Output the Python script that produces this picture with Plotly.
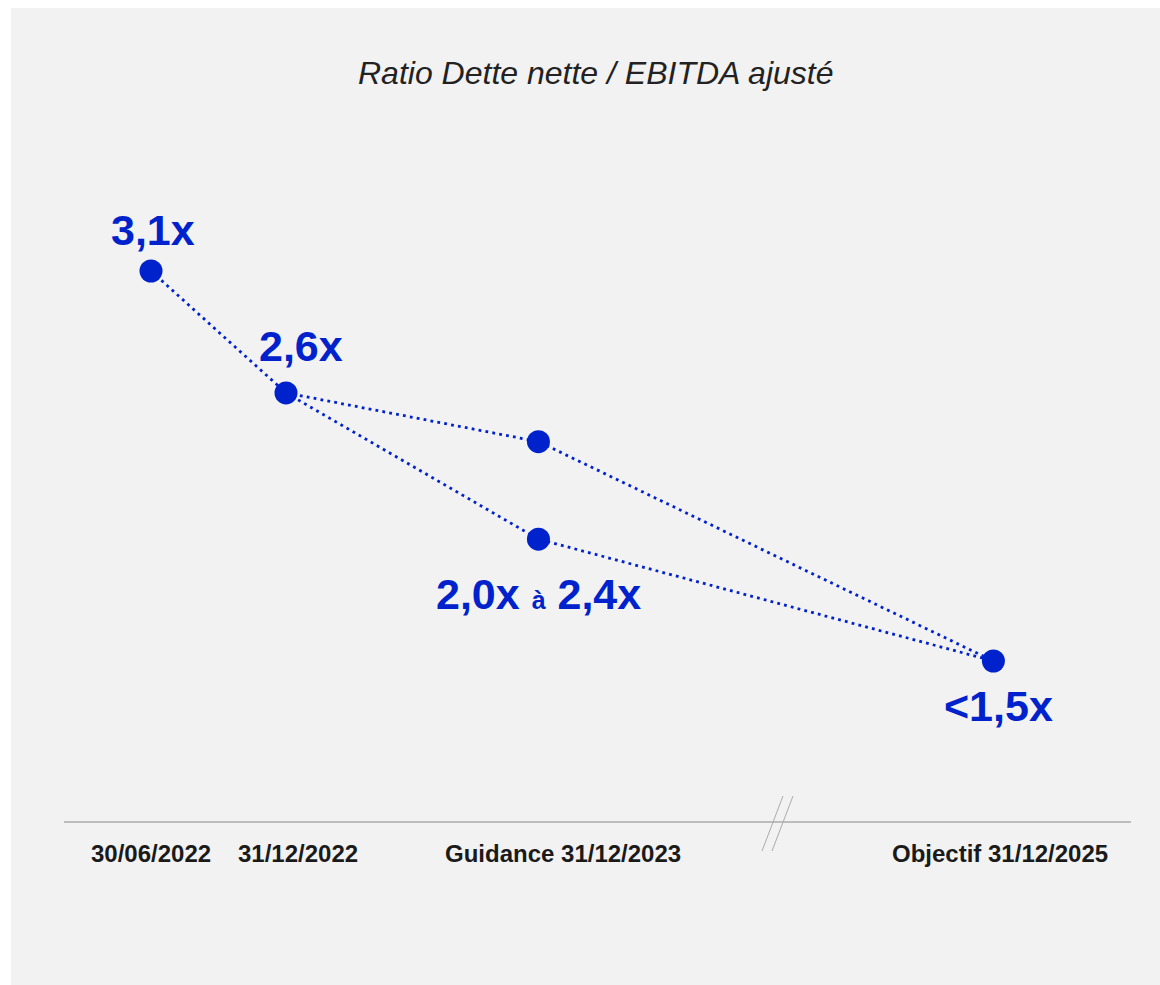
import plotly.graph_objects as go

# ---- data ----
periods = ["30/06/2022", "31/12/2022", "Guidance 31/12/2023", "Objectif 31/12/2025"]
ratio_high = [3.1, 2.6, 2.4, 1.5]          # upper path (guidance top)
ratio_low_periods = ["31/12/2022", "Guidance 31/12/2023", "Objectif 31/12/2025"]
ratio_low = [2.6, 2.0, 1.5]                # lower path (guidance bottom)
title_text = "Ratio Dette nette / EBITDA ajusté"

# ---- layout helpers (positions of each period along the broken time axis) ----
slot = dict(zip(periods, [0.0, 1.0, 2.87, 6.24]))

BLUE = "#0022CC"
W, H = 1160, 985

fig = go.Figure()

line_style = dict(color=BLUE, width=2.8, dash="2.8px,4.2px")
fig.add_trace(go.Scatter(
    x=[slot[p] for p in periods], y=ratio_high, mode="lines",
    line=line_style, hoverinfo="skip", showlegend=False))
fig.add_trace(go.Scatter(
    x=[slot[p] for p in ratio_low_periods], y=ratio_low, mode="lines",
    line=line_style, hoverinfo="skip", showlegend=False))
fig.add_trace(go.Scatter(
    x=[slot[p] for p in periods] + [slot[ratio_low_periods[1]]],
    y=ratio_high + [ratio_low[1]], mode="markers",
    marker=dict(color=BLUE, size=23), hoverinfo="skip", showlegend=False))

def fmt(v):
    return f"{v:.1f}".replace(".", ",") + "x"

label_font = dict(family="Liberation Sans, Arial, sans-serif", size=43, color=BLUE)
anns = []
anns.append(dict(x=slot[periods[0]], y=ratio_high[0], text="<b>" + fmt(ratio_high[0]) + "</b>",
                 xshift=2, yshift=41))
anns.append(dict(x=slot[periods[1]], y=ratio_high[1], text="<b>" + fmt(ratio_high[1]) + "</b>",
                 xshift=15, yshift=47))
anns.append(dict(x=slot[periods[2]], y=ratio_low[1],
                 text="<b>" + fmt(ratio_low[1]) + " <span style='font-size:25px'>à</span> " + fmt(ratio_high[2]) + "</b>",
                 xshift=0, yshift=-55))
anns.append(dict(x=slot[periods[3]], y=ratio_high[3], text="<b>&lt;" + fmt(ratio_high[3]) + "</b>",
                 xshift=5, yshift=-45))
for a in anns:
    a.update(xref="x", yref="y", showarrow=False, font=label_font,
             xanchor="center", yanchor="middle")

# period labels under the axis line
tick_font = dict(family="Liberation Sans, Arial, sans-serif", size=24, color="#1a1a1a")
for p, xs in zip(periods, [0, 12, 25, 7]):
    anns.append(dict(x=slot[p], y=1 - 853 / H, xref="x", yref="paper", text="<b>" + p + "</b>",
                     xshift=xs, showarrow=False, font=tick_font,
                     xanchor="center", yanchor="middle"))

# title
anns.append(dict(x=595 / W, y=1 - 73 / H, xref="paper", yref="paper", text="<i>" + title_text + "</i>",
                 showarrow=False, xanchor="center", yanchor="middle",
                 font=dict(family="Liberation Sans, Arial, sans-serif", size=32, color="#222222")))

grey_line = "#ababab"
shapes = [
    # grey panel
    dict(type="rect", xref="paper", yref="paper", x0=11 / W, x1=1, y0=0, y1=1 - 8 / H,
         fillcolor="#f2f2f2", line=dict(width=0), layer="below"),
    # axis line
    dict(type="line", xref="paper", yref="paper", x0=64 / W, x1=1131 / W,
         y0=1 - 822 / H, y1=1 - 822 / H, line=dict(color=grey_line, width=1.5)),
    # axis break marks
    dict(type="line", xref="paper", yref="paper", x0=762 / W, x1=783 / W,
         y0=1 - 851 / H, y1=1 - 796 / H, line=dict(color=grey_line, width=1)),
    dict(type="line", xref="paper", yref="paper", x0=772 / W, x1=793 / W,
         y0=1 - 851 / H, y1=1 - 796 / H, line=dict(color=grey_line, width=1)),
]

# axis scales: x slot 0 -> 151px (135 px per slot); y 3.1 -> 271px, 1.5 -> 661px
px_per_x = 135.0
x0_px = 151.0
y_top_px = 271.0
px_per_y = (661 - 271) / (3.1 - 1.5)
fig.update_layout(
    width=W, height=H,
    margin=dict(l=0, r=0, t=0, b=0),
    paper_bgcolor="white", plot_bgcolor="rgba(0,0,0,0)",
    xaxis=dict(range=[-x0_px / px_per_x, (W - x0_px) / px_per_x], visible=False, fixedrange=True),
    yaxis=dict(range=[3.1 - (H - y_top_px) / px_per_y, 3.1 + y_top_px / px_per_y], visible=False, fixedrange=True),
    annotations=anns, shapes=shapes,
)

fig.write_html(
    "out.html",
    config={"displayModeBar": False},
    post_script="document.body.style.margin='0';document.body.style.overflow='hidden';",
)
